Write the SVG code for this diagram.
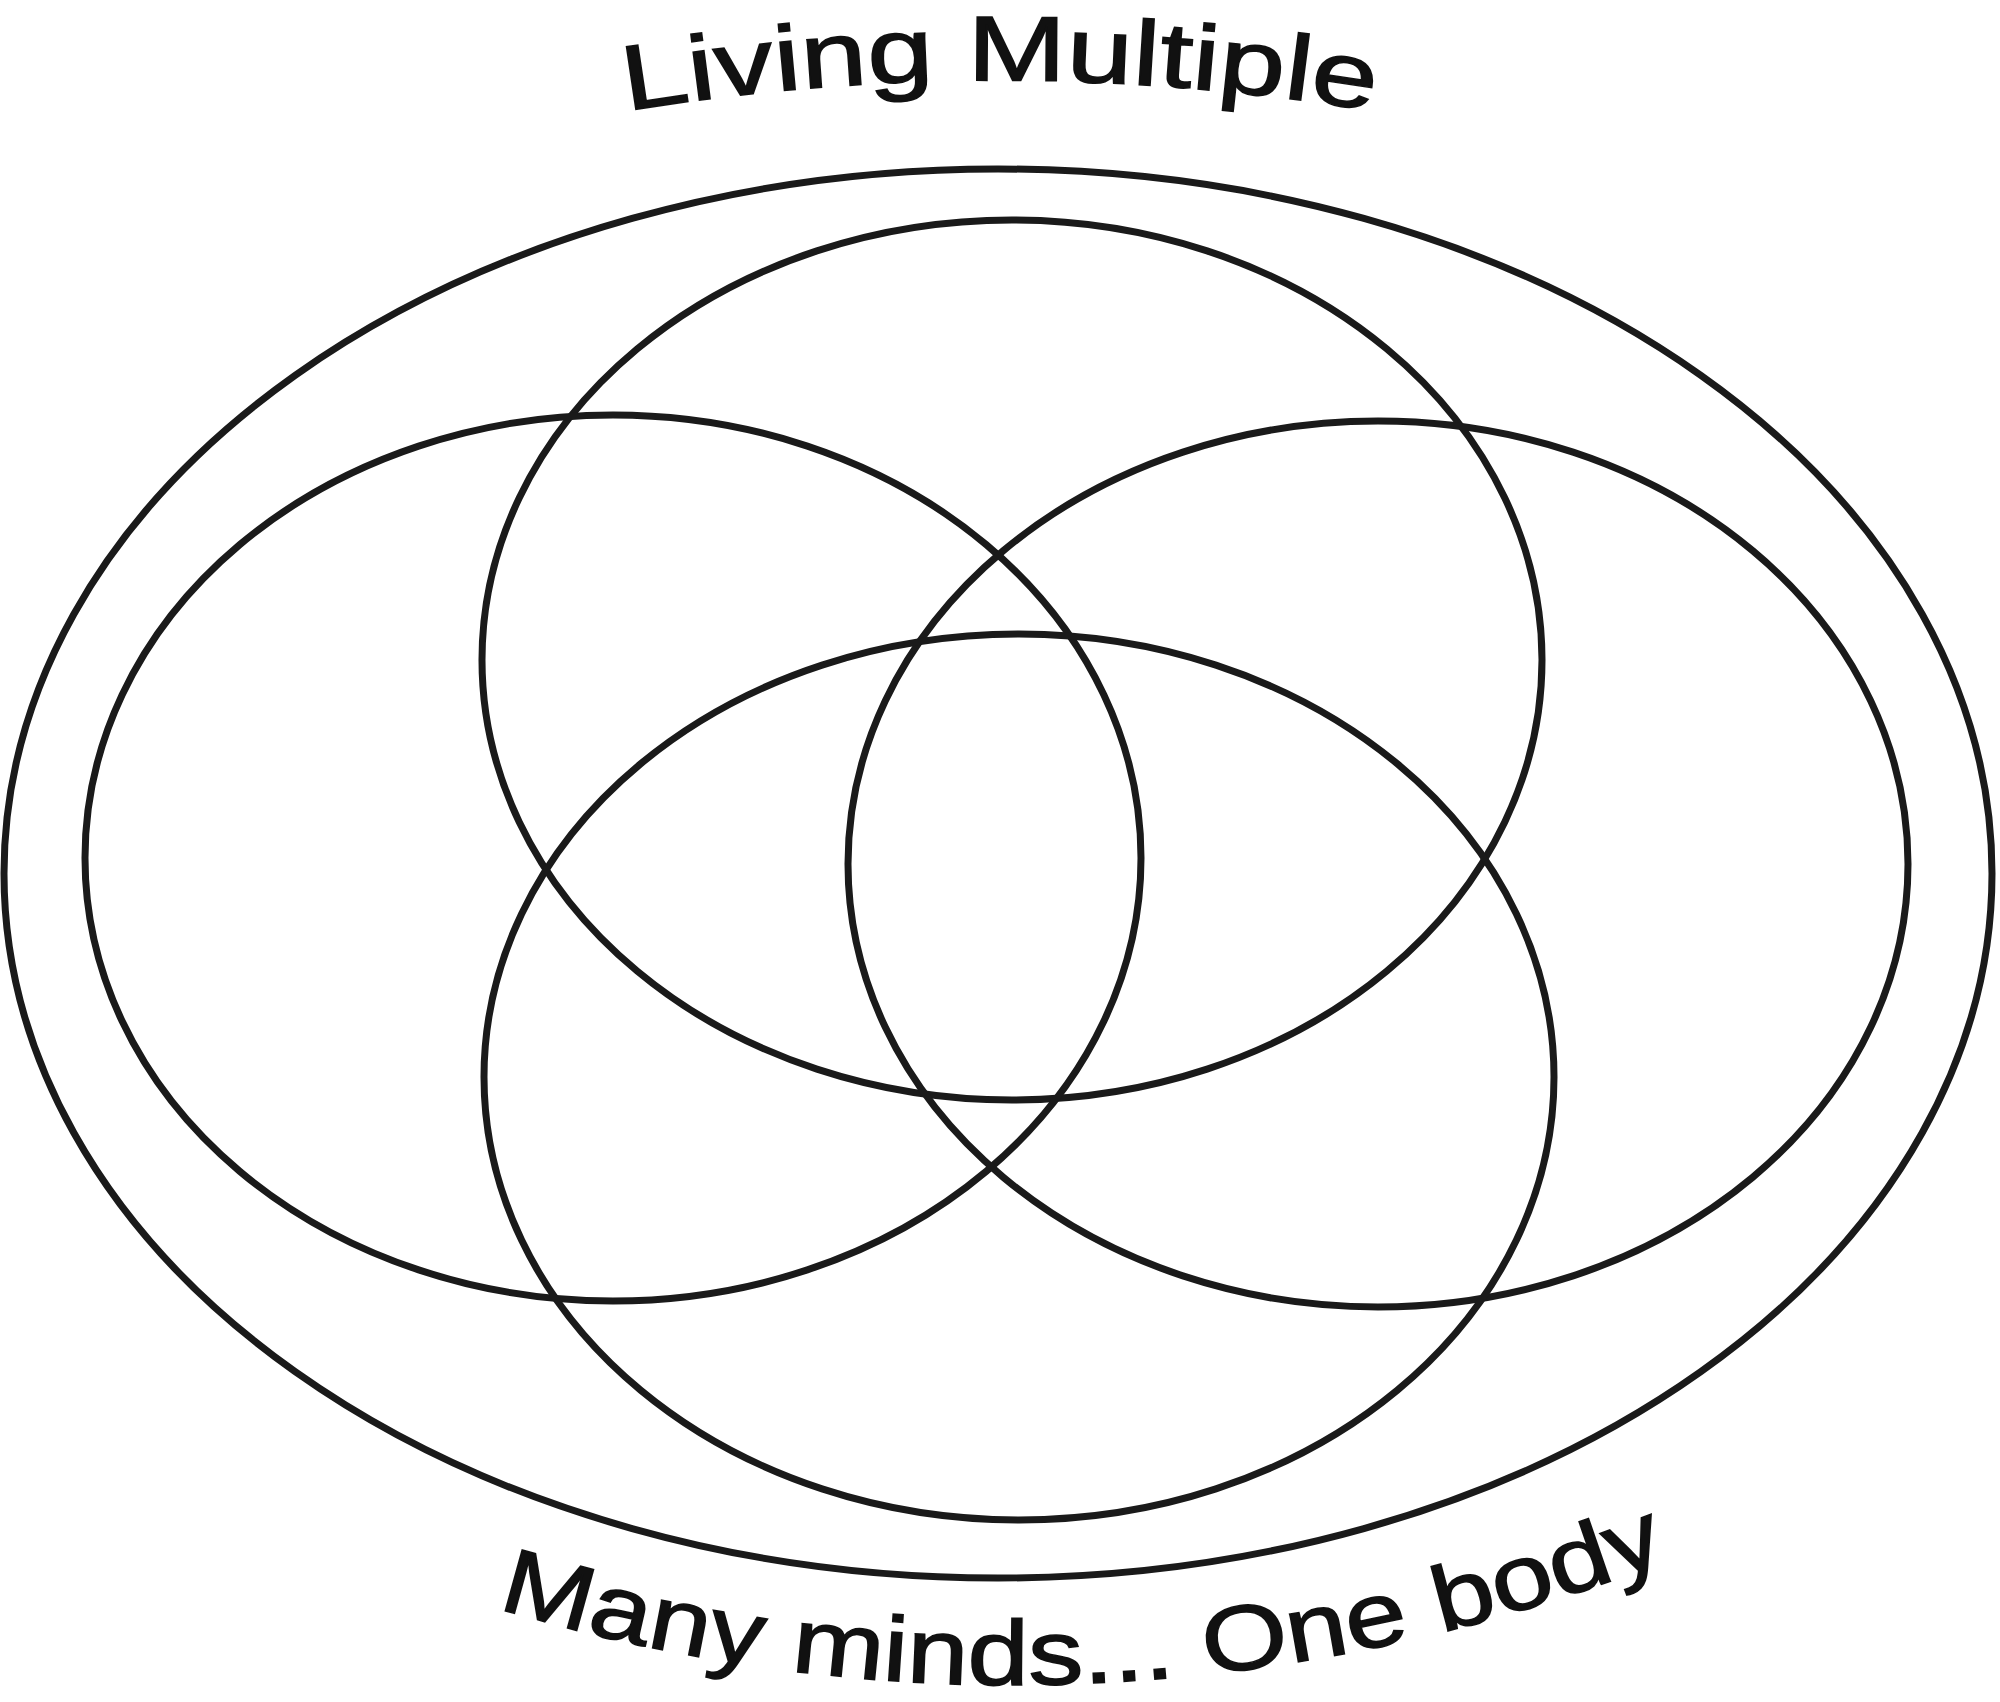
<svg xmlns="http://www.w3.org/2000/svg" xmlns:xlink="http://www.w3.org/1999/xlink" width="2000" height="1702" viewBox="0 0 2000 1702">
  <style>
    .ring { fill: none; stroke: #1a1a1a; stroke-width: 7; }
    .label { font-family: "Liberation Sans", Arial, sans-serif; font-size: 92px; fill: #111; stroke: #111; stroke-width: 1.5; }
  </style>
  <defs>
    <path id="topArc" d="M 560 123 A 2300 2300 0 0 1 1440 123"/>
    <path id="bottomArc" d="M 497 1608 A 1772 1772 0 0 0 1845 1477.5"/>
  </defs>
  <rect width="2000" height="1702" fill="#ffffff"/>
  <g id="outer">
    <ellipse class="ring" cx="998" cy="873.5" rx="994" ry="704.5"/>
  </g>
  <g id="ellipse-top">
    <ellipse class="ring" cx="1012" cy="660" rx="530" ry="440"/>
  </g>
  <g id="ellipse-left">
    <ellipse class="ring" cx="613" cy="858" rx="528" ry="443"/>
  </g>
  <g id="ellipse-right">
    <ellipse class="ring" cx="1378" cy="864" rx="530" ry="443"/>
  </g>
  <g id="ellipse-bottom">
    <ellipse class="ring" cx="1019" cy="1077" rx="535" ry="443"/>
  </g>
  <g id="title">
    <text class="label"><textPath xlink:href="#topArc" href="#topArc" startOffset="50%" text-anchor="middle" textLength="750" lengthAdjust="spacingAndGlyphs">Living Multiple</textPath></text>
  </g>
  <g id="subtitle">
    <text class="label"><textPath xlink:href="#bottomArc" href="#bottomArc" startOffset="0" textLength="1195" lengthAdjust="spacingAndGlyphs">Many minds... One body</textPath></text>
  </g>
</svg>
